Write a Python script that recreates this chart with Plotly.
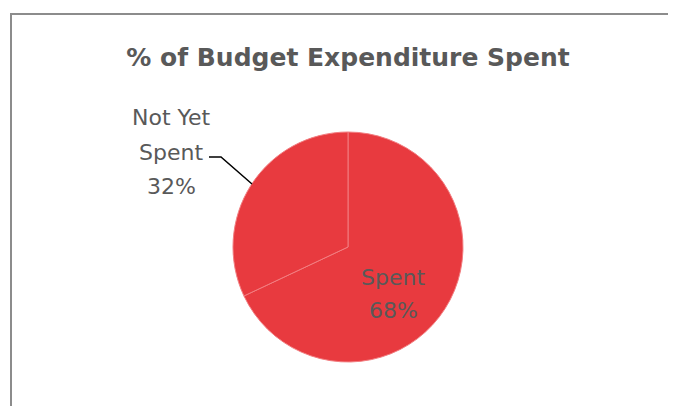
import plotly.graph_objects as go

labels = ["Spent", "Not Yet Spent"]
values = [68, 32]
label_lines = [["Spent", "68%"], ["Not Yet", "Spent", "32%"]]

OFF = 8  # default page body margin
W, H = 676 - OFF, 406 - OFF
RED = "#E83A3F"
TXT = "#595959"
FONT = "'DejaVu Sans', 'Open Sans', sans-serif"

def px(x):
    return (x - OFF) / W

def py(y):
    return 1 - (y - OFF) / H

cx, cy, r = 348, 247, 115

fig = go.Figure(go.Pie(
    labels=labels,
    values=values,
    sort=False,
    direction="clockwise",
    rotation=0,
    marker=dict(colors=[RED, RED], line=dict(color="#F27D80", width=1)),
    textinfo="none",
    hoverinfo="label+percent",
    showlegend=False,
    domain=dict(x=[px(cx - r), px(cx + r)], y=[py(cy + r), py(cy - r)]),
))

annotations = []
for i, line in enumerate(label_lines[0]):
    annotations.append(dict(x=px(393), y=py(277 + 33 * i), xref="paper", yref="paper",
                            text=line, showarrow=False, xanchor="center", yanchor="middle",
                            font=dict(family=FONT, size=22, color=TXT)))
for i, line in enumerate(label_lines[1]):
    annotations.append(dict(x=px(171), y=py(118 + 34 * i), xref="paper", yref="paper",
                            text=line, showarrow=False, xanchor="center", yanchor="middle",
                            font=dict(family=FONT, size=22, color=TXT)))

shapes = [
    dict(type="rect", xref="paper", yref="paper",
         x0=px(11), x1=px(W + 30), y0=py(H + 30), y1=py(14),
         line=dict(color="#8C8C8C", width=2), fillcolor="rgba(0,0,0,0)", layer="below"),
    dict(type="path", xref="paper", yref="paper",
         path=f"M {px(209)},{py(157)} L {px(221)},{py(157)} L {px(252)},{py(184)}",
         line=dict(color="#000000", width=1.5)),
]

fig.update_layout(
    width=W, height=H,
    margin=dict(l=0, r=0, t=0, b=0),
    paper_bgcolor="white",
    plot_bgcolor="white",
    title=dict(text="<b>% of Budget Expenditure Spent</b>", x=px(348), xanchor="center",
               y=py(57), yanchor="middle", yref="container",
               font=dict(family=FONT, size=25, color=TXT)),
    annotations=annotations,
    shapes=shapes,
)

fig.write_html("out.html")
